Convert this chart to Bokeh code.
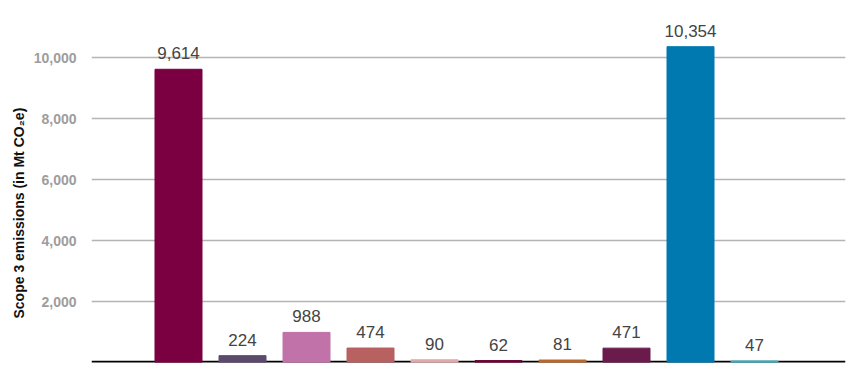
from bokeh.plotting import figure
from bokeh.models import ColumnDataSource, FixedTicker, NumeralTickFormatter, Span, Title
from bokeh.core.properties import value
from bokeh.embed import file_html
from bokeh.resources import INLINE

values = [9614, 224, 988, 474, 90, 62, 81, 471, 10354, 47]
labels = ["9,614", "224", "988", "474", "90", "62", "81", "471", "10,354", "47"]
colors = ["#7b0041", "#5c4a6c", "#c072a9", "#b86161", "#e3a9aa",
          "#6e0035", "#b8682c", "#6a1b4b", "#0079b1", "#2fb0c2"]
y_ticks = [2000, 4000, 6000, 8000, 10000]
positions = list(range(len(values)))

src = ColumnDataSource(dict(x=positions, top=values, label=labels, color=colors))

x_start = -87 / 64
x_end = x_start + 754 / 64
p = figure(width=862, height=386, output_backend="svg", toolbar_location=None,
           x_range=(x_start, x_end), y_range=(0, 346 / 305 * 10000),
           min_border_left=91, min_border_right=17, min_border_top=16, min_border_bottom=24)
p.outline_line_color = None
p.background_fill_color = "white"

p.add_layout(Span(location=0, dimension="width", line_color="black", line_width=3.5,
                  level="underlay"))

p.vbar(x="x", top="top", width=47 / 64, color="color", source=src)
p.text(x="x", y="top", text="label", source=src, text_align="center", text_baseline="bottom",
       y_offset=-10, text_font=value("Liberation Sans"), text_font_size="17px", text_color="#444444")

p.xaxis.visible = False
p.xgrid.visible = False
p.yaxis.ticker = FixedTicker(ticks=y_ticks)
p.yaxis.formatter = NumeralTickFormatter(format="0,0")
p.yaxis.axis_line_color = None
p.yaxis.major_tick_line_color = None
p.yaxis.minor_tick_line_color = None
p.yaxis.major_label_text_font = "Liberation Sans"
p.yaxis.major_label_text_font_size = "14px"
p.yaxis.major_label_text_font_style = "bold"
p.yaxis.major_label_text_color = "#9d9d9d"
p.yaxis.major_label_standoff = 9
p.ygrid.grid_line_color = "#b4b4b4"
p.ygrid.grid_line_width = 1.5

ytitle = Title(text="Scope 3 emissions (in Mt CO\u2082e)", align="left", offset=44,
               text_font="Liberation Sans", text_font_size="14px", text_font_style="bold",
               text_color="#111111", standoff=8)
p.add_layout(ytitle, "left")

open("out.html", "w").write(file_html(p, INLINE))
